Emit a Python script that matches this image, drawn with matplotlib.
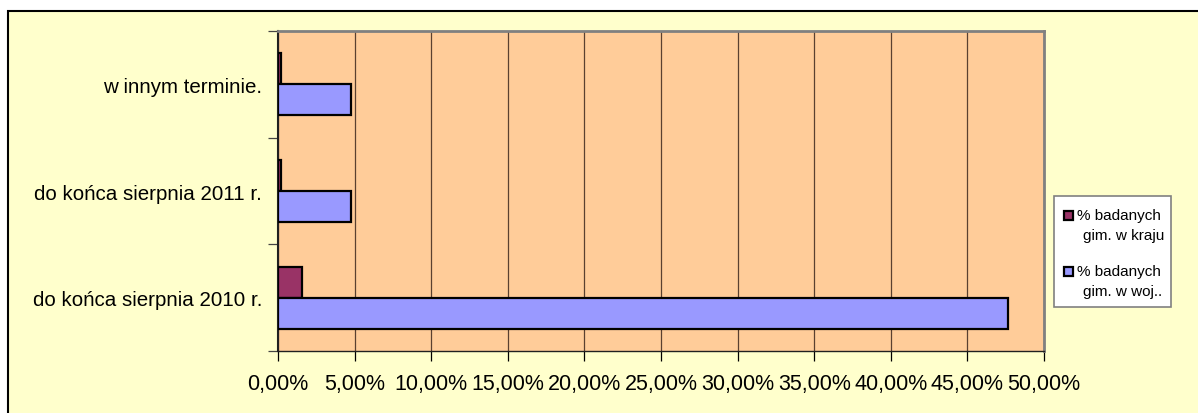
import matplotlib
matplotlib.use("Agg")
import matplotlib.pyplot as plt
from matplotlib.patches import Rectangle
from matplotlib.ticker import FixedLocator, FuncFormatter

plt.rcParams['font.family'] = ['Liberation Sans', 'DejaVu Sans']

categories = ["do końca sierpnia 2010 r.", "do końca sierpnia 2011 r.", "w innym terminie."]
kraj = [1.59, 0.20, 0.20]
woj = [47.62, 4.76, 4.76]
series_labels = ["% badanych\ngim. w kraju", "% badanych\ngim. w woj.."]
xticks = [0, 5, 10, 15, 20, 25, 30, 35, 40, 45, 50]

W, H = 1198, 414
fig = plt.figure(figsize=(W / 100, H / 100), dpi=100)
fig.patch.set_facecolor('white')

def px(x0, y0, x1, y1):
    # pixel box (top-left origin) -> figure fraction rect
    return [x0 / W, 1 - y1 / H, (x1 - x0) / W, (y1 - y0) / H]

# chart area background with frame
frame = Rectangle((8 / W, -0.1), 1.2, 1 - 12 / H + 0.1, transform=fig.transFigure,
                  facecolor='#FFFFCC', edgecolor='black', linewidth=1.5, zorder=-10)
fig.patches.append(frame)

ax = fig.add_axes(px(278, 32, 1044, 352))
ax.set_zorder(1)
ax.set_facecolor('#FFCC99')

kraj_col = '#993366'
woj_col = '#9999FF'
h = 0.29
pos = list(range(len(categories)))
ax.barh([p + h / 2 for p in pos], kraj, height=h, color=kraj_col,
        edgecolor='black', linewidth=1.6, zorder=3)
ax.barh([p - h / 2 for p in pos], woj, height=h, color=woj_col,
        edgecolor='black', linewidth=1.6, zorder=3)

ax.set_xlim(0, 50)
ax.set_ylim(-0.5, len(categories) - 0.5)

ax.xaxis.set_major_locator(FixedLocator(xticks))
ax.xaxis.set_major_formatter(FuncFormatter(lambda v, _: f"{v:.2f}%".replace('.', ',')))
ax.set_yticks(pos)
ax.set_yticklabels(categories)
ax.set_yticks([p - 0.5 for p in pos] + [len(categories) - 0.5], minor=True)

ax.tick_params(axis='x', direction='out', length=7, width=0.9, color='black',
               labelsize=15.5, pad=8.5)
ax.tick_params(axis='y', which='major', length=0, labelsize=14.8, pad=11.5)
ax.tick_params(axis='y', which='minor', direction='out', length=7, width=0.9, color='#444444')

ax.grid(axis='x', color='#5a4030', linewidth=0.9, zorder=1)
ax.set_axisbelow(True)

for side in ('top', 'right'):
    ax.spines[side].set_color('#808080')
    ax.spines[side].set_linewidth(2)
ax.spines['left'].set_color('#202020')
ax.spines['left'].set_linewidth(1.5)
ax.spines['bottom'].set_color('#202020')
ax.spines['bottom'].set_linewidth(1.0)

# legend box
lx0, ly0, lx1, ly1 = 1054, 197, 1171, 308
fig.patches.append(Rectangle((lx0 / W, 1 - ly1 / H), (lx1 - lx0) / W, (ly1 - ly0) / H,
                             transform=fig.transFigure, facecolor='white',
                             edgecolor='#808080', linewidth=1.2, zorder=5))
for i, (lab, col) in enumerate(zip(series_labels, [kraj_col, woj_col])):
    yc = 216 + i * 56
    fig.patches.append(Rectangle((1064 / W, 1 - (yc + 4.5) / H), 8.5 / W, 8.5 / H,
                                 transform=fig.transFigure, facecolor=col,
                                 edgecolor='black', linewidth=1.6, zorder=6))
    first, second = lab.split('\n')
    fig.text(1077 / W, 1 - yc / H, first, fontsize=11, va='center', ha='left', zorder=7)
    fig.text(1083 / W, 1 - (yc + 20) / H, second, fontsize=11, va='center', ha='left', zorder=7)

fig.savefig('out.png', dpi=100, facecolor=fig.get_facecolor())
